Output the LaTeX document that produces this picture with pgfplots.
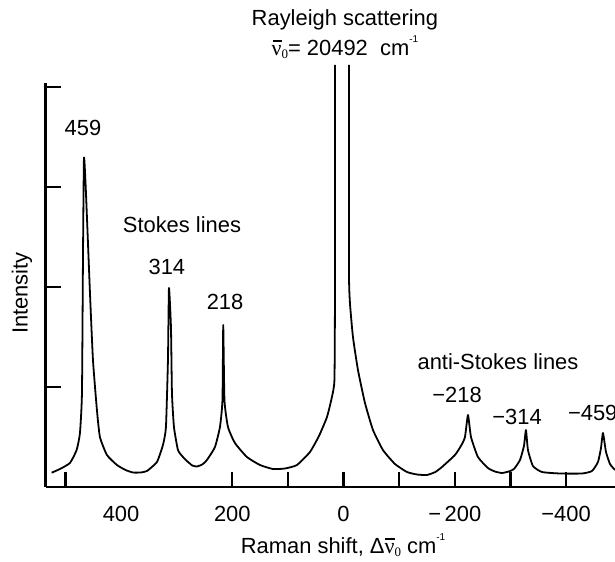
\documentclass[border=0pt]{standalone}
\usepackage{fontspec}
\setmainfont{Liberation Sans}
\newfontfamily\serif{Liberation Serif}
\usepackage{pgfplots}
\pgfplotsset{compat=1.18}

% nu-bar with subscript zero, and cm^-1
\newcommand\nubar{{\serif\makebox[0pt][l]{\hspace{0.04em}\rule[0.64em]{0.42em}{0.055em}}ν}}
\newcommand\nuzero{\nubar\raisebox{-0.12em}{\serif\fontsize{13}{13}\selectfont 0}}
\newcommand\invcm{cm\raisebox{0.6em}{\fontsize{10}{10}\selectfont -1}}

\begin{document}
\begin{tikzpicture}[font=\fontsize{22}{26}\selectfont]
\begin{axis}[
  at={(0,0)}, anchor=south west,
  scale only axis, width=569.3bp, height=404bp,
  x dir=reverse,
  xmin=-488, xmax=535.5, ymin=0, ymax=4.04,
  axis x line=bottom, axis y line=left,
  axis line style={-, line width=3pt, black},
  tick align=inside,
  major tick length=15bp,
  xtick={500,200,100,0,-100,-200,-300,-400},
  xticklabels={,200,,0,,−\,200,,−400},
  extra x ticks={400}, extra x tick labels={400},
  extra x tick style={major tick length=0pt},
  ytick={1,2,3,4}, yticklabels={},
  x tick style={line width=2.2pt, black},
  y tick style={line width=2.8pt, black},
  xticklabel style={font=\fontsize{22}{26}\selectfont, yshift=-15.5bp},
  clip=false,
  spec/.style={black, no markers, line width=1.8pt, line join=round, smooth, tension=0.3},
]
% Stokes side and left wing of the Rayleigh line
\addplot[spec] coordinates {
  (524.8,0.143) (509.9,0.18) (491.9,0.24) (479.9,0.37) (473.9,0.54)
  (470.3,0.94) (468.5,2.27) (466.7,3.29) (463.1,2.94) (455.9,1.94)
  (450.5,1.27) (443.4,0.77) (438.0,0.50) (425.4,0.32) (407.4,0.22)
  (392,0.17) (378.6,0.145) (365,0.145) (353.5,0.16) (335.5,0.25) (324.7,0.42) (319.3,0.60)
  (315.7,1.27) (313.9,1.99) (310.3,1.60) (308.5,0.94) (304.9,0.60)
  (297.7,0.37) (288.7,0.30) (281.6,0.26) (272,0.215) (263.6,0.205) (254,0.225) (245.6,0.27)
  (231.2,0.40) (222.2,0.60) (217.7,0.87) (216.3,1.62) (214.1,0.87)
  (207.8,0.60) (195.3,0.44) (173.7,0.30) (150.3,0.22) (126.9,0.18)
  (105.4,0.185) (83.8,0.22) (60.4,0.35) (44.2,0.51) (29.8,0.70)
  (20.9,0.90) (16.4,1.07) (15.5,1.87) (15.5,4.22)
};
% right wing of the Rayleigh line and anti-Stokes side
\addplot[spec] coordinates {
  (-9.7,4.22) (-9.7,2.17) (-11.5,1.84) (-16.9,1.50) (-25.9,1.17)
  (-38.5,0.84) (-52.9,0.57) (-70.8,0.37) (-92.4,0.23) (-114.0,0.15)
  (-132.0,0.125) (-149.9,0.12) (-165,0.15) (-176.9,0.20) (-200.3,0.32) (-212,0.42) (-218.3,0.50)
  (-223.7,0.72) (-229.1,0.50) (-241.6,0.30) (-259.6,0.19) (-272,0.155) (-284.8,0.14)
  (-297,0.155) (-306.4,0.18) (-317.2,0.27) (-324.3,0.41) (-327.9,0.57) (-331.5,0.37)
  (-340.5,0.21) (-356.7,0.15) (-389.1,0.135) (-428.6,0.135) (-446.6,0.16)
  (-457.4,0.25) (-462.8,0.39) (-466.4,0.54) (-471.8,0.35) (-479.0,0.23)
  (-488.0,0.17)
};
\node at (axis cs:-2.5,4.67) {Rayleigh scattering};
\node at (axis cs:-2.5,4.40) {\nuzero= 20492\ \ \invcm};
\node at (axis cs:468.5,3.59) {459};
\node at (axis cs:290.5,2.62) {Stokes lines};
\node at (axis cs:317.6,2.20) {314};
\node at (axis cs:213,1.85) {218};
\node at (axis cs:-277.6,1.25) {anti-Stokes lines};
\node at (axis cs:-204,0.92) {−218};
\node at (axis cs:-312,0.70) {−314};
\node at (axis cs:-448,0.74) {−459};
\node[rotate=90] at (axis cs:578,1.94) {Intensity};
\node at (axis cs:1,-0.58) {Raman shift, Δ\nuzero\ \invcm};
\end{axis}
\pgfresetboundingbox
\path[use as bounding box] (-45.7bp,-75bp) rectangle (569.3bp,487bp);
\end{tikzpicture}
\end{document}
